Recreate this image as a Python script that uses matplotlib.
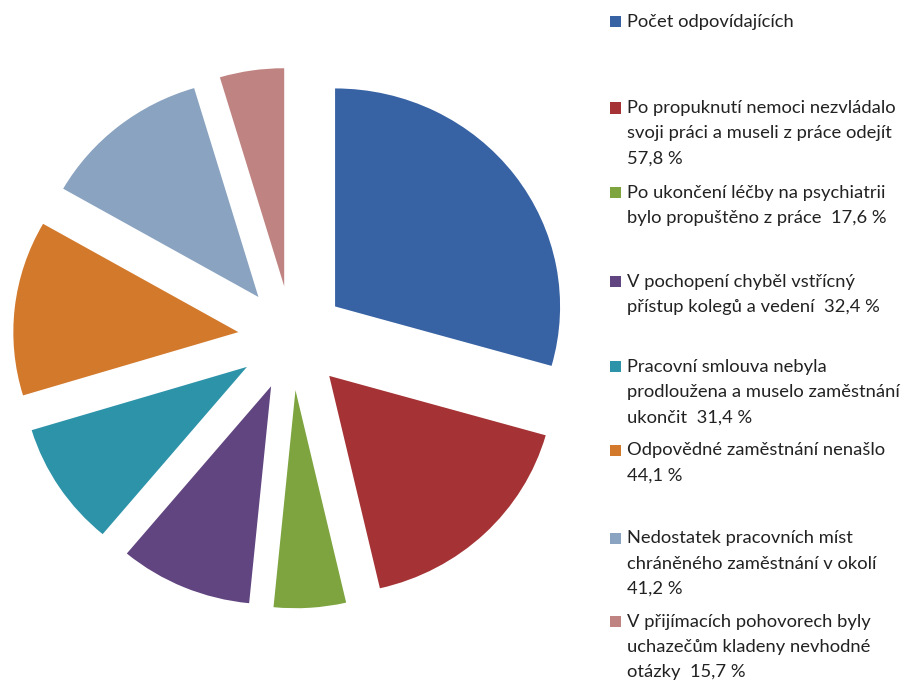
import matplotlib
matplotlib.use('Agg')
import matplotlib.pyplot as plt
from matplotlib.patches import Rectangle

# share of respondents (the first slice is the whole group, 100 %)
labels = [
    'Počet odpovídajících',
    'Po propuknutí nemoci nezvládalo\nsvoji práci a museli z práce odejít\n57,8 %',
    'Po ukončení léčby na psychiatrii\nbylo propuštěno z práce  17,6 %',
    'V pochopení chyběl vstřícný\npřístup kolegů a vedení  32,4 %',
    'Pracovní smlouva nebyla\nprodloužena a muselo zaměstnání\nukončit  31,4 %',
    'Odpovědné zaměstnání nenašlo\n44,1 %',
    'Nedostatek pracovních míst\nchráněného zaměstnání v okolí\n41,2 %',
    'V přijímacích pohovorech byly\nuchazečům kladeny nevhodné\notázky  15,7 %',
]
values = [100, 57.8, 17.6, 32.4, 31.4, 44.1, 41.2, 15.7]
colors = ['#3762a3', '#a53234', '#7da43f', '#614580',
          '#2d93a9', '#d2792c', '#8aa3c0', '#bf8482']

W, H = 907, 681
fig = plt.figure(figsize=(W / 100, H / 100), dpi=100)
ax = fig.add_axes([0, 0, 1, 1])
ax.pie(values, colors=colors, explode=[0.24] * len(values), startangle=90,
       counterclock=False, wedgeprops=dict(linewidth=0))

# pie centre in pixels and radius (slightly wider than tall)
cx, cy, rx, ry = 292, 338, 225, 218
ax.set_aspect('auto')
ax.set_xlim(-cx / rx, (W - cx) / rx)
ax.set_ylim(-(H - cy) / ry, cy / ry)
ax.axis('off')

# legend on the right, hand placed
first_line = [21.7, 108, 193, 281.7, 366.7, 450, 538.3, 621.5]
step = 25.3
for lab, col, y0 in zip(labels, colors, first_line):
    fig.patches.append(Rectangle((610 / W, 1 - (y0 + 5.5) / H), 11 / W, 11 / H,
                                 transform=fig.transFigure, color=col, lw=0))
    for i, line in enumerate(lab.split('\n')):
        fig.text(627 / W, 1 - (y0 + i * step) / H, line, fontsize=13.2,
                 family='Lato', va='center', ha='left', color='#222222')

fig.savefig('out.png', dpi=100)
